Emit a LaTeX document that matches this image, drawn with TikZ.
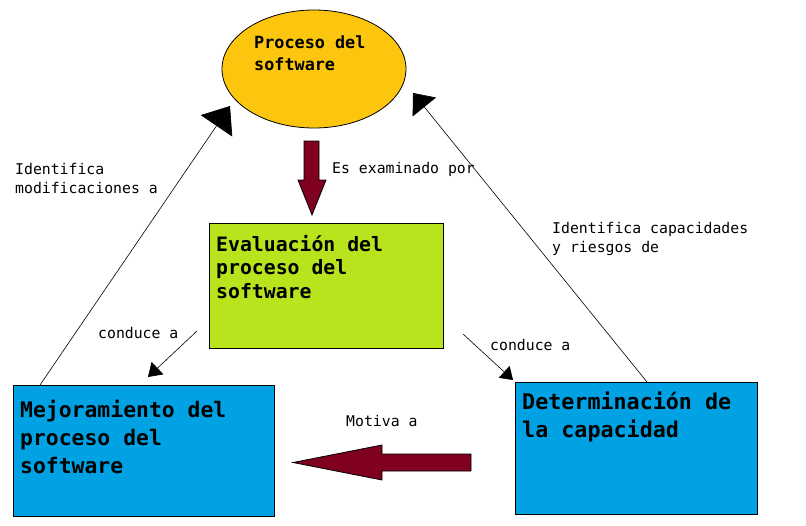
\documentclass[tikz,border=0pt]{standalone}
\usepackage{fontspec}
\setmainfont{DejaVu Sans Mono}
\usetikzlibrary{shapes.geometric,arrows.meta}
\definecolor{procyellow}{RGB}{252,198,15}
\definecolor{evalgreen}{RGB}{184,228,30}
\definecolor{boxblue}{RGB}{0,162,228}
\definecolor{fatred}{RGB}{128,0,32}
\tikzset{
  box/.style={draw, line width=1pt, anchor=north west, inner sep=0pt},
  boxtext/.style={anchor=base west, inner sep=0pt, align=left},
  lbl/.style={anchor=base west, inner sep=0pt, align=left, font=\fontsize{14.8}{19}\selectfont},
  relline/.style={draw, line width=0.6pt},
  fatarrow/.style={draw, line width=0.8pt, fill=fatred, line join=miter}
}
\begin{document}
\begin{tikzpicture}[x=1pt, y=-1pt]
\useasboundingbox (0,0) rectangle (806,525);

\node[ellipse, draw, line width=0.8pt, fill=procyellow, minimum width=184pt, minimum height=118pt, inner sep=0pt] (proc) at (314,69) {};
\node[boxtext, font=\bfseries\fontsize{16.8}{22}\selectfont] (proctext) at (254,70) {Proceso del\\software};

\node[box, fill=evalgreen, minimum width=234pt, minimum height=125pt] (eval) at (209,223) {};
\node[boxtext, font=\bfseries\fontsize{19.8}{23.5}\selectfont] (evaltext) at (216,298) {Evaluación del\\proceso del\\software};

\node[box, fill=boxblue, minimum width=261pt, minimum height=131pt] (mej) at (13,385) {};
\node[boxtext, font=\bfseries\fontsize{21.4}{28}\selectfont] (mejtext) at (20,473) {Mejoramiento del\\proceso del\\software};

\node[box, fill=boxblue, minimum width=242pt, minimum height=132pt] (det) at (515,382) {};
\node[boxtext, font=\bfseries\fontsize{21.7}{28}\selectfont] (dettext) at (522,437) {Determinación de\\la capacidad};

% fat arrows
\draw[fatarrow] (304,141) -- (319,141) -- (319,180) -- (326,180) -- (312,215) -- (298,180) -- (304,180) -- cycle;
\draw[fatarrow] (471,454) -- (471,471) -- (382,471) -- (382,480) -- (293,462.5) -- (382,445) -- (382,454) -- cycle;

% labels
\node[lbl] (examlbl) at (332,173) {Es examinado por};
\node[lbl] (modiflbl) at (15,193) {Identifica\\modificaciones a};
\node[lbl] (capaclbl) at (552,252) {Identifica capacidades\\y riesgos de};
\node[lbl] (condlbl1) at (98,338) {conduce a};
\node[lbl] (condlbl2) at (490,350) {conduce a};
\node[lbl] (motivlbl) at (346,426) {Motiva a};

% thin connectors
\coordinate (proctipL) at (230,106);
\coordinate (proctipR) at (413,93);
\draw[relline, -{Triangle[length=24pt,width=38pt]}] ([xshift=27pt]mej.north west) -- (proctipL);
\draw[relline, -{Triangle[length=18pt,width=30pt]}] ([xshift=132pt]det.north west) -- (proctipR);
\draw[relline, -{Triangle[length=13pt,width=17pt]}] ([shift={(-12pt,18pt)}]eval.south west) -- ([shift={(135pt,8pt)}]mej.north west);
\draw[relline, -{Triangle[length=12pt,width=16pt]}] ([shift={(19pt,15pt)}]eval.south east) -- ([shift={(-2pt,2pt)}]det.north west);

\end{tikzpicture}
\end{document}
